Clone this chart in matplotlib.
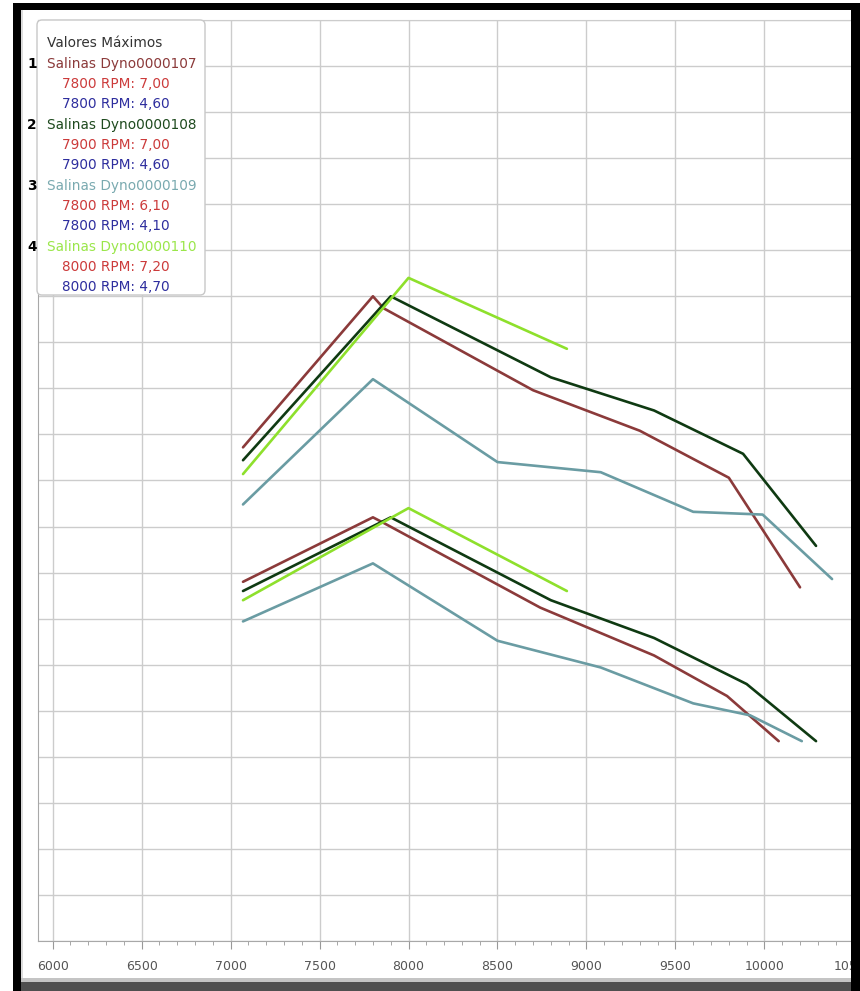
import matplotlib.pyplot as plt
import numpy as np
from matplotlib.patches import Rectangle, FancyBboxPatch
from matplotlib.transforms import Affine2D

# 数据：四次测功（上：功率，下：扭矩）
s1_rpm_p = [7070, 7800, 7860, 8700, 9300, 9800, 10200]
s1_pow = [5.36, 7.00, 6.87, 5.98, 5.54, 5.03, 3.84]
s1_rpm_t = [7070, 7800, 7850, 8740, 9380, 9790, 10080]
s1_tq = [3.90, 4.60, 4.55, 3.62, 3.10, 2.66, 2.17]

s2_rpm_p = [7070, 7900, 8800, 9380, 9880, 10290]
s2_pow = [5.22, 7.00, 6.12, 5.76, 5.29, 4.29]
s2_rpm_t = [7070, 7900, 8800, 9380, 9900, 10290]
s2_tq = [3.80, 4.60, 3.70, 3.29, 2.79, 2.17]

s3_rpm_p = [7070, 7800, 8500, 9080, 9600, 9990, 10380]
s3_pow = [4.74, 6.10, 5.20, 5.09, 4.66, 4.63, 3.93]
s3_rpm_t = [7070, 7800, 8500, 9080, 9600, 9920, 10210]
s3_tq = [3.47, 4.10, 3.26, 2.97, 2.58, 2.45, 2.17]

s4_rpm_p = [7070, 8000, 8890]
s4_pow = [5.07, 7.20, 6.43]
s4_rpm_t = [7070, 8000, 8890]
s4_tq = [3.70, 4.70, 3.80]

names = ["Salinas Dyno0000107", "Salinas Dyno0000108",
         "Salinas Dyno0000109", "Salinas Dyno0000110"]
max_pow = ["7800 RPM: 7,00", "7900 RPM: 7,00", "7800 RPM: 6,10", "8000 RPM: 7,20"]
max_tq = ["7800 RPM: 4,60", "7900 RPM: 4,60", "7800 RPM: 4,10", "8000 RPM: 4,70"]
colors = ["#8b3a3a", "#0f3a12", "#6a9ca3", "#8ee02c"]
name_colors = ["#8b3a3a", "#1e4a1e", "#7aaab0", "#9ae64a"]

W, H = 860, 991
fig = plt.figure(figsize=(W / 100, H / 100), dpi=100)
fig.patch.set_facecolor("white")
# 像素坐标（左上角为原点）
px = Affine2D().scale(1, -1).translate(0, H).scale(1 / W, 1 / H) + fig.transFigure

ax = fig.add_axes([38 / W, 1 - 941 / H, (W - 38) / W, (941 - 20) / H])
ax.set_xlim(5918, 10537)
ax.set_ylim(0, 10)

series = [
    (s1_rpm_p, s1_pow, s1_rpm_t, s1_tq),
    (s2_rpm_p, s2_pow, s2_rpm_t, s2_tq),
    (s3_rpm_p, s3_pow, s3_rpm_t, s3_tq),
    (s4_rpm_p, s4_pow, s4_rpm_t, s4_tq),
]
for (rp, pw, rt, tq), c in zip(series, colors):
    ax.plot(rp, pw, color=c, lw=1.9, solid_joinstyle="round", solid_capstyle="round")
    ax.plot(rt, tq, color=c, lw=1.9, solid_joinstyle="round", solid_capstyle="round")

# 网格和坐标轴
ax.set_xticks(np.arange(6000, 10501, 500))
ax.set_xticks(np.arange(6000, 10501, 100), minor=True)
ax.set_yticks(np.arange(0, 10.01, 0.5))
ax.grid(True, which="major", color="#cccccc", lw=1)
ax.set_axisbelow(True)
ax.tick_params(axis="y", left=False, labelleft=False)
ax.tick_params(axis="x", which="major", length=6, color="#999999",
               labelsize=9, labelcolor="#555555", pad=8)
ax.tick_params(axis="x", which="minor", length=3, color="#999999")
ax.spines["left"].set_color("#a8a8a8")
ax.spines["bottom"].set_color("#a8a8a8")
ax.spines["top"].set_color("#cccccc")
ax.spines["right"].set_visible(False)

# 图例框
box = FancyBboxPatch((37, 20), 168, 275, boxstyle="round,pad=0,rounding_size=5",
                     transform=px, facecolor="white", edgecolor="#c8c8c8",
                     lw=1, zorder=5)
fig.add_artist(box)
fs = 9.8
fig.text(47, 43, "Valores Máximos", transform=px, color="#333333",
         fontsize=fs, va="center", zorder=6)
y0 = 64
for i in range(4):
    y = y0 + i * 61
    fig.text(32, y, str(i + 1), transform=px, color="black", fontsize=fs,
             fontweight="bold", ha="center", va="center", zorder=6)
    fig.text(47, y, names[i], transform=px, color=name_colors[i],
             fontsize=fs, va="center", zorder=6)
    fig.text(62, y + 20, max_pow[i], transform=px, color="#cc3b3b",
             fontsize=fs, va="center", zorder=6)
    fig.text(62, y + 40, max_tq[i], transform=px, color="#2e2e9e",
             fontsize=fs, va="center", zorder=6)

# 截图边框
frame = [
    ((13, 3), 8, 988, "black"),
    ((13, 3), 847, 7, "black"),
    ((851, 3), 9, 988, "black"),
    ((21, 978), 830, 4, "#c4c4c4"),
    ((21, 982), 830, 9, "#4f4f4f"),
    ((21, 10), 2, 968, "#dcdcdc"),
]
for (xy, w, h, c) in frame:
    fig.add_artist(Rectangle(xy, w, h, transform=px, facecolor=c,
                             edgecolor="none", zorder=10))

fig.savefig("out.png", dpi=100)
